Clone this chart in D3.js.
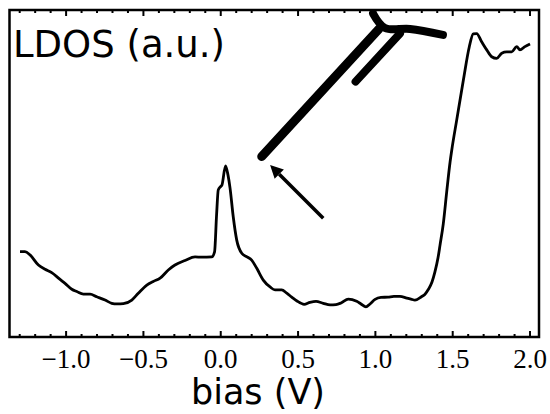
<!DOCTYPE html>
<html>
<head>
<meta charset="utf-8">
<script src="https://cdn.jsdelivr.net/npm/d3@7"></script>
<style>
  html, body { margin: 0; padding: 0; background: #fff; }
  svg { display: block; }
</style>
</head>
<body>
<svg id="chart" width="550" height="414"></svg>
<script>
// Tunnelling spectrum: bias (V) vs LDOS (arbitrary units)
const bias = [
  -1.298, -1.266, -1.233, -1.179, -1.136, -1.093, -1.039, -1.007, -0.963, -0.931,
  -0.888, -0.845, -0.802, -0.748, -0.705, -0.670, -0.630, -0.575, -0.533, -0.478,
  -0.436, -0.392, -0.339, -0.296, -0.231, -0.166, -0.123, -0.058, -0.040, -0.027,
  -0.016, -0.001, 0.008, 0.031, 0.047, 0.060, 0.081, 0.103, 0.136, 0.170,
  0.200, 0.233, 0.275, 0.319, 0.351, 0.394, 0.427, 0.459, 0.493, 0.539,
  0.577, 0.616, 0.663, 0.707, 0.745, 0.778, 0.825, 0.879, 0.907, 0.939,
  0.965, 0.998, 1.036, 1.082, 1.120, 1.159, 1.203, 1.230, 1.256, 1.300,
  1.321, 1.342, 1.366, 1.385, 1.405, 1.418, 1.439, 1.461, 1.483, 1.494,
  1.526, 1.569, 1.607, 1.633, 1.655, 1.687, 1.720, 1.752, 1.784, 1.817,
  1.849, 1.881, 1.914, 1.935, 1.967, 2.000
];
const ldos = [
  0.261, 0.261, 0.251, 0.220, 0.207, 0.197, 0.176, 0.164, 0.146, 0.139,
  0.131, 0.131, 0.123, 0.113, 0.103, 0.101, 0.102, 0.113, 0.134, 0.159,
  0.170, 0.180, 0.205, 0.220, 0.234, 0.245, 0.244, 0.245, 0.260, 0.373,
  0.450, 0.460, 0.465, 0.523, 0.495, 0.456, 0.367, 0.297, 0.256, 0.245,
  0.235, 0.210, 0.174, 0.153, 0.144, 0.144, 0.134, 0.122, 0.110, 0.100,
  0.106, 0.109, 0.103, 0.098, 0.099, 0.104, 0.116, 0.109, 0.101, 0.092,
  0.101, 0.115, 0.121, 0.122, 0.124, 0.124, 0.119, 0.116, 0.113, 0.124,
  0.131, 0.145, 0.168, 0.199, 0.242, 0.281, 0.346, 0.443, 0.535, 0.572,
  0.664, 0.786, 0.887, 0.927, 0.928, 0.903, 0.878, 0.857, 0.852, 0.868,
  0.872, 0.872, 0.888, 0.878, 0.888, 0.896
];

const majorTicks = [-1.0, -0.5, 0.0, 0.5, 1.0, 1.5, 2.0];
const minorTicks = d3.range(-13, 21).map(d => d / 10);

const xLabel = "bias (V)";
const yLabel = "LDOS (a.u.)";

// Sketch of the STM tip and the arrow pointing at its apex, in data units
const tipShaft = [[0.265, 0.552], [1.023, 0.942]];
const tipInner = [[0.872, 0.781], [1.159, 0.928]];
const tipBar = [[0.985, 0.989], [1.062, 0.945], [1.224, 0.942], [1.437, 0.924]];
const arrow = [[0.663, 0.363], [0.319, 0.526]];

const svg = d3.select("#chart");
const plot = { left: 9.5, right: 539, top: 10, bottom: 337 };

const x = d3.scaleLinear().domain([-1.366, 2.058]).range([plot.left, plot.right]);
const y = d3.scaleLinear().domain([0, 1]).range([plot.bottom, plot.top]);

// tick marks pointing inward on the bottom and top edges
const tickG = svg.append("g").attr("stroke", "#000").attr("stroke-width", 2);
minorTicks.forEach(t => {
  const isMajor = majorTicks.some(m => Math.abs(m - t) < 1e-9);
  const len = isMajor ? 6 : 3;
  tickG.append("line")
    .attr("x1", x(t)).attr("x2", x(t))
    .attr("y1", plot.bottom).attr("y2", plot.bottom - len);
  tickG.append("line")
    .attr("x1", x(t)).attr("x2", x(t))
    .attr("y1", plot.top).attr("y2", plot.top + len);
});

// tick labels
const fmt = d3.format(".1f");
svg.append("g")
  .selectAll("text")
  .data(majorTicks)
  .join("text")
  .attr("x", d => x(d))
  .attr("y", 368)
  .attr("text-anchor", "middle")
  .attr("font-family", "'Liberation Serif', 'Times New Roman', serif")
  .attr("font-size", 27)
  .attr("fill", "#000")
  .text(d => fmt(d));

// spectrum
const pts = bias.map((b, i) => [b, ldos[i]]);
svg.append("path")
  .datum(pts)
  .attr("fill", "none")
  .attr("stroke", "#000")
  .attr("stroke-width", 2.8)
  .attr("stroke-linejoin", "round")
  .attr("d", d3.line().x(d => x(d[0])).y(d => y(d[1])).curve(d3.curveMonotoneX));

// tip sketch
const toPx = p => [x(p[0]), y(p[1])];
const straight = d3.line();
const smooth = d3.line().curve(d3.curveCatmullRom);
const tipG = svg.append("g")
  .attr("fill", "none")
  .attr("stroke", "#000")
  .attr("stroke-linecap", "round")
  .attr("stroke-linejoin", "round");
tipG.append("path").attr("stroke-width", 9).attr("d", straight(tipShaft.map(toPx)));
tipG.append("path").attr("stroke-width", 8).attr("d", straight(tipInner.map(toPx)));
tipG.append("path").attr("stroke-width", 8).attr("d", smooth(tipBar.map(toPx)));

// arrow
const [a0, a1] = arrow.map(toPx);
const ang = Math.atan2(a1[1] - a0[1], a1[0] - a0[0]);
const headLen = 13, headW = 6.5;
const back = [a1[0] - headLen * Math.cos(ang), a1[1] - headLen * Math.sin(ang)];
svg.append("line")
  .attr("x1", a0[0]).attr("y1", a0[1])
  .attr("x2", back[0]).attr("y2", back[1])
  .attr("stroke", "#000").attr("stroke-width", 3.5);
svg.append("path")
  .attr("fill", "#000")
  .attr("d", d3.line()([
    a1,
    [back[0] + headW * Math.sin(ang), back[1] - headW * Math.cos(ang)],
    [back[0] - headW * Math.sin(ang), back[1] + headW * Math.cos(ang)]
  ]) + "Z");

// frame
svg.append("rect")
  .attr("x", plot.left).attr("y", plot.top)
  .attr("width", plot.right - plot.left)
  .attr("height", plot.bottom - plot.top)
  .attr("fill", "none")
  .attr("stroke", "#000")
  .attr("stroke-width", 2.5);

// axis titles
svg.append("text")
  .attr("x", 13).attr("y", 57)
  .attr("font-family", "'DejaVu Sans', Verdana, sans-serif")
  .attr("font-size", 37)
  .attr("fill", "#000")
  .text(yLabel);

svg.append("text")
  .attr("x", 258).attr("y", 404)
  .attr("text-anchor", "middle")
  .attr("font-family", "'DejaVu Sans', Verdana, sans-serif")
  .attr("font-size", 35)
  .attr("fill", "#000")
  .text(xLabel);
</script>
</body>
</html>
